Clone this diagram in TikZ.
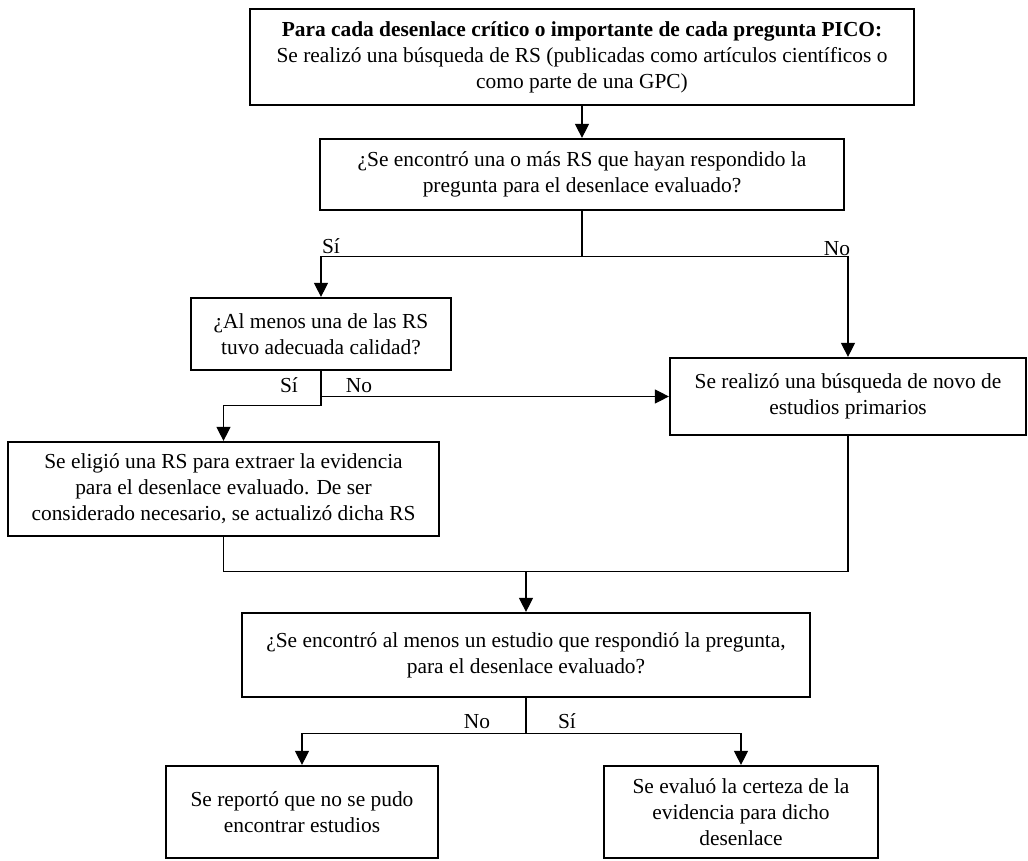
\documentclass[tikz,border=0pt]{standalone}
\usepackage{fontspec}
\setmainfont{Liberation Serif}
\usetikzlibrary{positioning, arrows.meta, calc}

\begin{document}
\begin{tikzpicture}[x=0.5pt, y=-0.5pt,
	box/.style={draw, line width=1.1pt, align=center, inner sep=0pt, font=\fontsize{10.7}{13}\selectfont},
	conn/.style={line width=0.55pt},
	arr/.style={conn, -{Triangle[width=7pt, length=7pt]}},
	lbl/.style={font=\fontsize{10.7}{13}\selectfont, inner sep=0pt}]
	
	\useasboundingbox (0,0) rectangle (1028,861);
	
	\node[box, minimum width=332pt, minimum height=48pt] (pico) at (582,57)
	{\textbf{Para cada desenlace crítico o importante de cada pregunta PICO:}\\
		Se realizó una búsqueda de RS (publicadas como artículos científicos o\\
		como parte de una GPC)};
	
	% Questions on the RS
	\node[box, minimum width=262pt, minimum height=35.5pt] (rs) at ($(pico) + (0,117.5)$)
	{¿Se encontró una o más RS que hayan respondido la\\ pregunta para el desenlace evaluado?};
	\node[box, minimum width=130pt, minimum height=36pt] (calidad) at ($(pico) + (-261,277)$)
	{¿Al menos una de las RS\\ tuvo adecuada calidad?};
	\node[box, minimum width=178pt, minimum height=38.5pt] (novo) at ($(pico) + (266,339.5)$)
	{Se realizó una búsqueda de novo de\\ estudios primarios};
	\node[box, minimum width=215.5pt, minimum height=47pt] (eligio) at ($(pico) + (-358.5,432)$)
	{Se eligió una RS para extraer la evidencia\\ para el desenlace evaluado. De ser\\
		considerado necesario, se actualizó dicha RS};
	
	% Final question and results
	\node[box, minimum width=284pt, minimum height=42pt] (estudio) at ($(pico) + (-56,598)$)
	{¿Se encontró al menos un estudio que respondió la pregunta,\\ para el desenlace evaluado?};
	\node[box, minimum width=136pt, minimum height=46pt] (noenc) at ($(pico) + (-280,755)$)
	{Se reportó que no se pudo\\ encontrar estudios};
	\node[box, minimum width=137pt, minimum height=46pt] (certeza) at ($(pico) + (159,755)$)
	{Se evaluó la certeza de la\\ evidencia para dicho\\ desenlace};
	
	% Connections
	\draw[arr] (pico.south) -- (rs.north);
	\coordinate (j1) at ($(rs.south) + (0,45)$);
	\draw[conn] (rs.south) -- (j1);
	\draw[arr] (j1) -| (calidad.north);
	\draw[arr] (j1) -| (novo.north);
	\node[lbl] (si1) at ($(j1) + (-251,-10)$) {Sí};
	\node[lbl] (no1) at ($(j1) + (255,-8)$) {No};
	
	\draw[arr] (calidad.south) |- (novo.west);
	\draw[arr] (calidad.south) -- ++(0,34) -| (eligio.north);
	\node[lbl] (si2) at ($(calidad.south) + (-32,14)$) {Sí};
	\node[lbl] (no2) at ($(calidad.south) + (38,14)$) {No};
	
	\coordinate (j2) at ($(estudio.north) + (0,-40)$);
	\draw[conn] (eligio.south) |- (j2);
	\draw[conn] (novo.south) |- (j2);
	\draw[arr] (j2) -- (estudio.north);
	
	\coordinate (j3) at ($(estudio.south) + (0,35)$);
	\draw[conn] (estudio.south) -- (j3);
	\draw[arr] (j3) -| (noenc.north);
	\draw[arr] (j3) -| (certeza.north);
	\node[lbl] (no3) at ($(estudio.south) + (-49,23)$) {No};
	\node[lbl] (si3) at ($(estudio.south) + (41,23)$) {Sí};
\end{tikzpicture}
\end{document}
